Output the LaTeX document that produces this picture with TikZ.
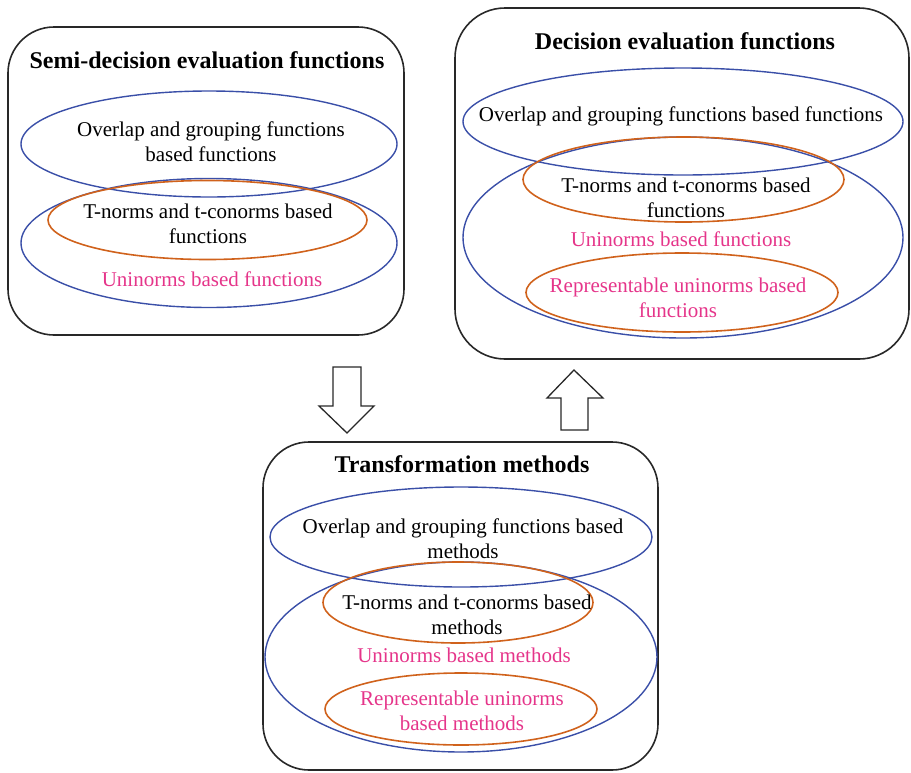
\documentclass[tikz,border=0pt]{standalone}
\usepackage{fontspec}
\setmainfont{Liberation Serif}
\usetikzlibrary{shapes.geometric}
\definecolor{ellblue}{RGB}{58,79,168}
\definecolor{ellorange}{RGB}{208,98,28}
\definecolor{txtpink}{RGB}{229,53,138}
\definecolor{boxline}{RGB}{40,40,40}
\begin{document}
\begin{tikzpicture}[x=1pt,y=-1pt,
  bigbox/.style={draw=boxline, line width=1.6pt, rounded corners=46pt, inner sep=0pt},
  blueell/.style={ellipse, draw=ellblue, line width=1.4pt, inner sep=0pt},
  orangeell/.style={ellipse, draw=ellorange, line width=1.6pt, inner sep=0pt},
  title/.style={font=\fontsize{24}{28}\selectfont\bfseries, inner sep=0pt},
  lbl/.style={font=\fontsize{21}{25}\selectfont, align=center, inner sep=0pt, text=black},
  pinklbl/.style={lbl, text=txtpink},
  blockarrow/.style={draw=boxline, line width=1.3pt, fill=white}
]
\useasboundingbox (0,0) rectangle (911,772);

% ---- Box 1: Semi-decision ----
\node[bigbox, minimum width=396pt, minimum height=308pt] (box1) at (206,181) {};
\node[title] (t1) at (207,60) {Semi-decision evaluation functions};
\node[blueell, minimum width=376pt, minimum height=106pt] (b1a) at (209,144) {};
\node[blueell, minimum width=376pt, minimum height=129pt] (b1b) at (209,243) {};
\node[orangeell, minimum width=319pt, minimum height=79pt] (o1a) at (207.5,220) {};
\node[lbl] (l1a) at (211,142) {Overlap and grouping functions\\based functions};
\node[lbl] (l1b) at (208,224) {T-norms and t-conorms based\\functions};
\node[pinklbl] (l1c) at (212,279) {Uninorms based functions};

% ---- Box 2: Decision ----
\node[bigbox, rounded corners=50pt, minimum width=454pt, minimum height=351pt] (box2) at (682,183.5) {};
\node[title] (t2) at (685,41) {Decision evaluation functions};
\node[blueell, minimum width=440pt, minimum height=107pt] (b2a) at (683,121.5) {};
\node[blueell, minimum width=440pt, minimum height=201pt] (b2b) at (683,237.5) {};
\node[orangeell, minimum width=321pt, minimum height=85pt] (o2a) at (683.5,179.5) {};
\node[orangeell, minimum width=312pt, minimum height=79pt] (o2b) at (682,292.5) {};
\node[lbl] (l2a) at (681,116) {Overlap and grouping functions based functions};
\node[lbl] (l2b) at (686,198) {T-norms and t-conorms based\\functions};
\node[pinklbl] (l2c) at (681,239) {Uninorms based functions};
\node[pinklbl] (l2d) at (678,298) {Representable uninorms based\\functions};

% ---- Box 3: Transformation ----
\node[bigbox, minimum width=395pt, minimum height=328pt] (box3) at (460.5,606) {};
\node[title] (t3) at (462,464) {Transformation methods};
\node[blueell, minimum width=382pt, minimum height=100pt] (b3a) at (461,537) {};
\node[blueell, minimum width=392pt, minimum height=190pt] (b3b) at (461,657) {};
\node[orangeell, minimum width=270pt, minimum height=81pt] (o3a) at (458,602.5) {};
\node[orangeell, minimum width=272pt, minimum height=72pt] (o3b) at (461,709) {};
\node[lbl] (l3a) at (463,539) {Overlap and grouping functions based\\methods};
\node[lbl] (l3b) at (467,615) {T-norms and t-conorms based\\methods};
\node[pinklbl] (l3c) at (464,655) {Uninorms based methods};
\node[pinklbl] (l3d) at (462,711) {Representable uninorms\\based methods};

% ---- Block arrows ----
\draw[blockarrow] (333,367) -- (361,367) -- (361,406) -- (374,406) -- (347,433)
  -- (319,406) -- (333,406) -- cycle;
\draw[blockarrow] (574,370) -- (603,398) -- (588,398) -- (588,430) -- (561,430)
  -- (561,398) -- (547,398) -- cycle;
\end{tikzpicture}
\end{document}
